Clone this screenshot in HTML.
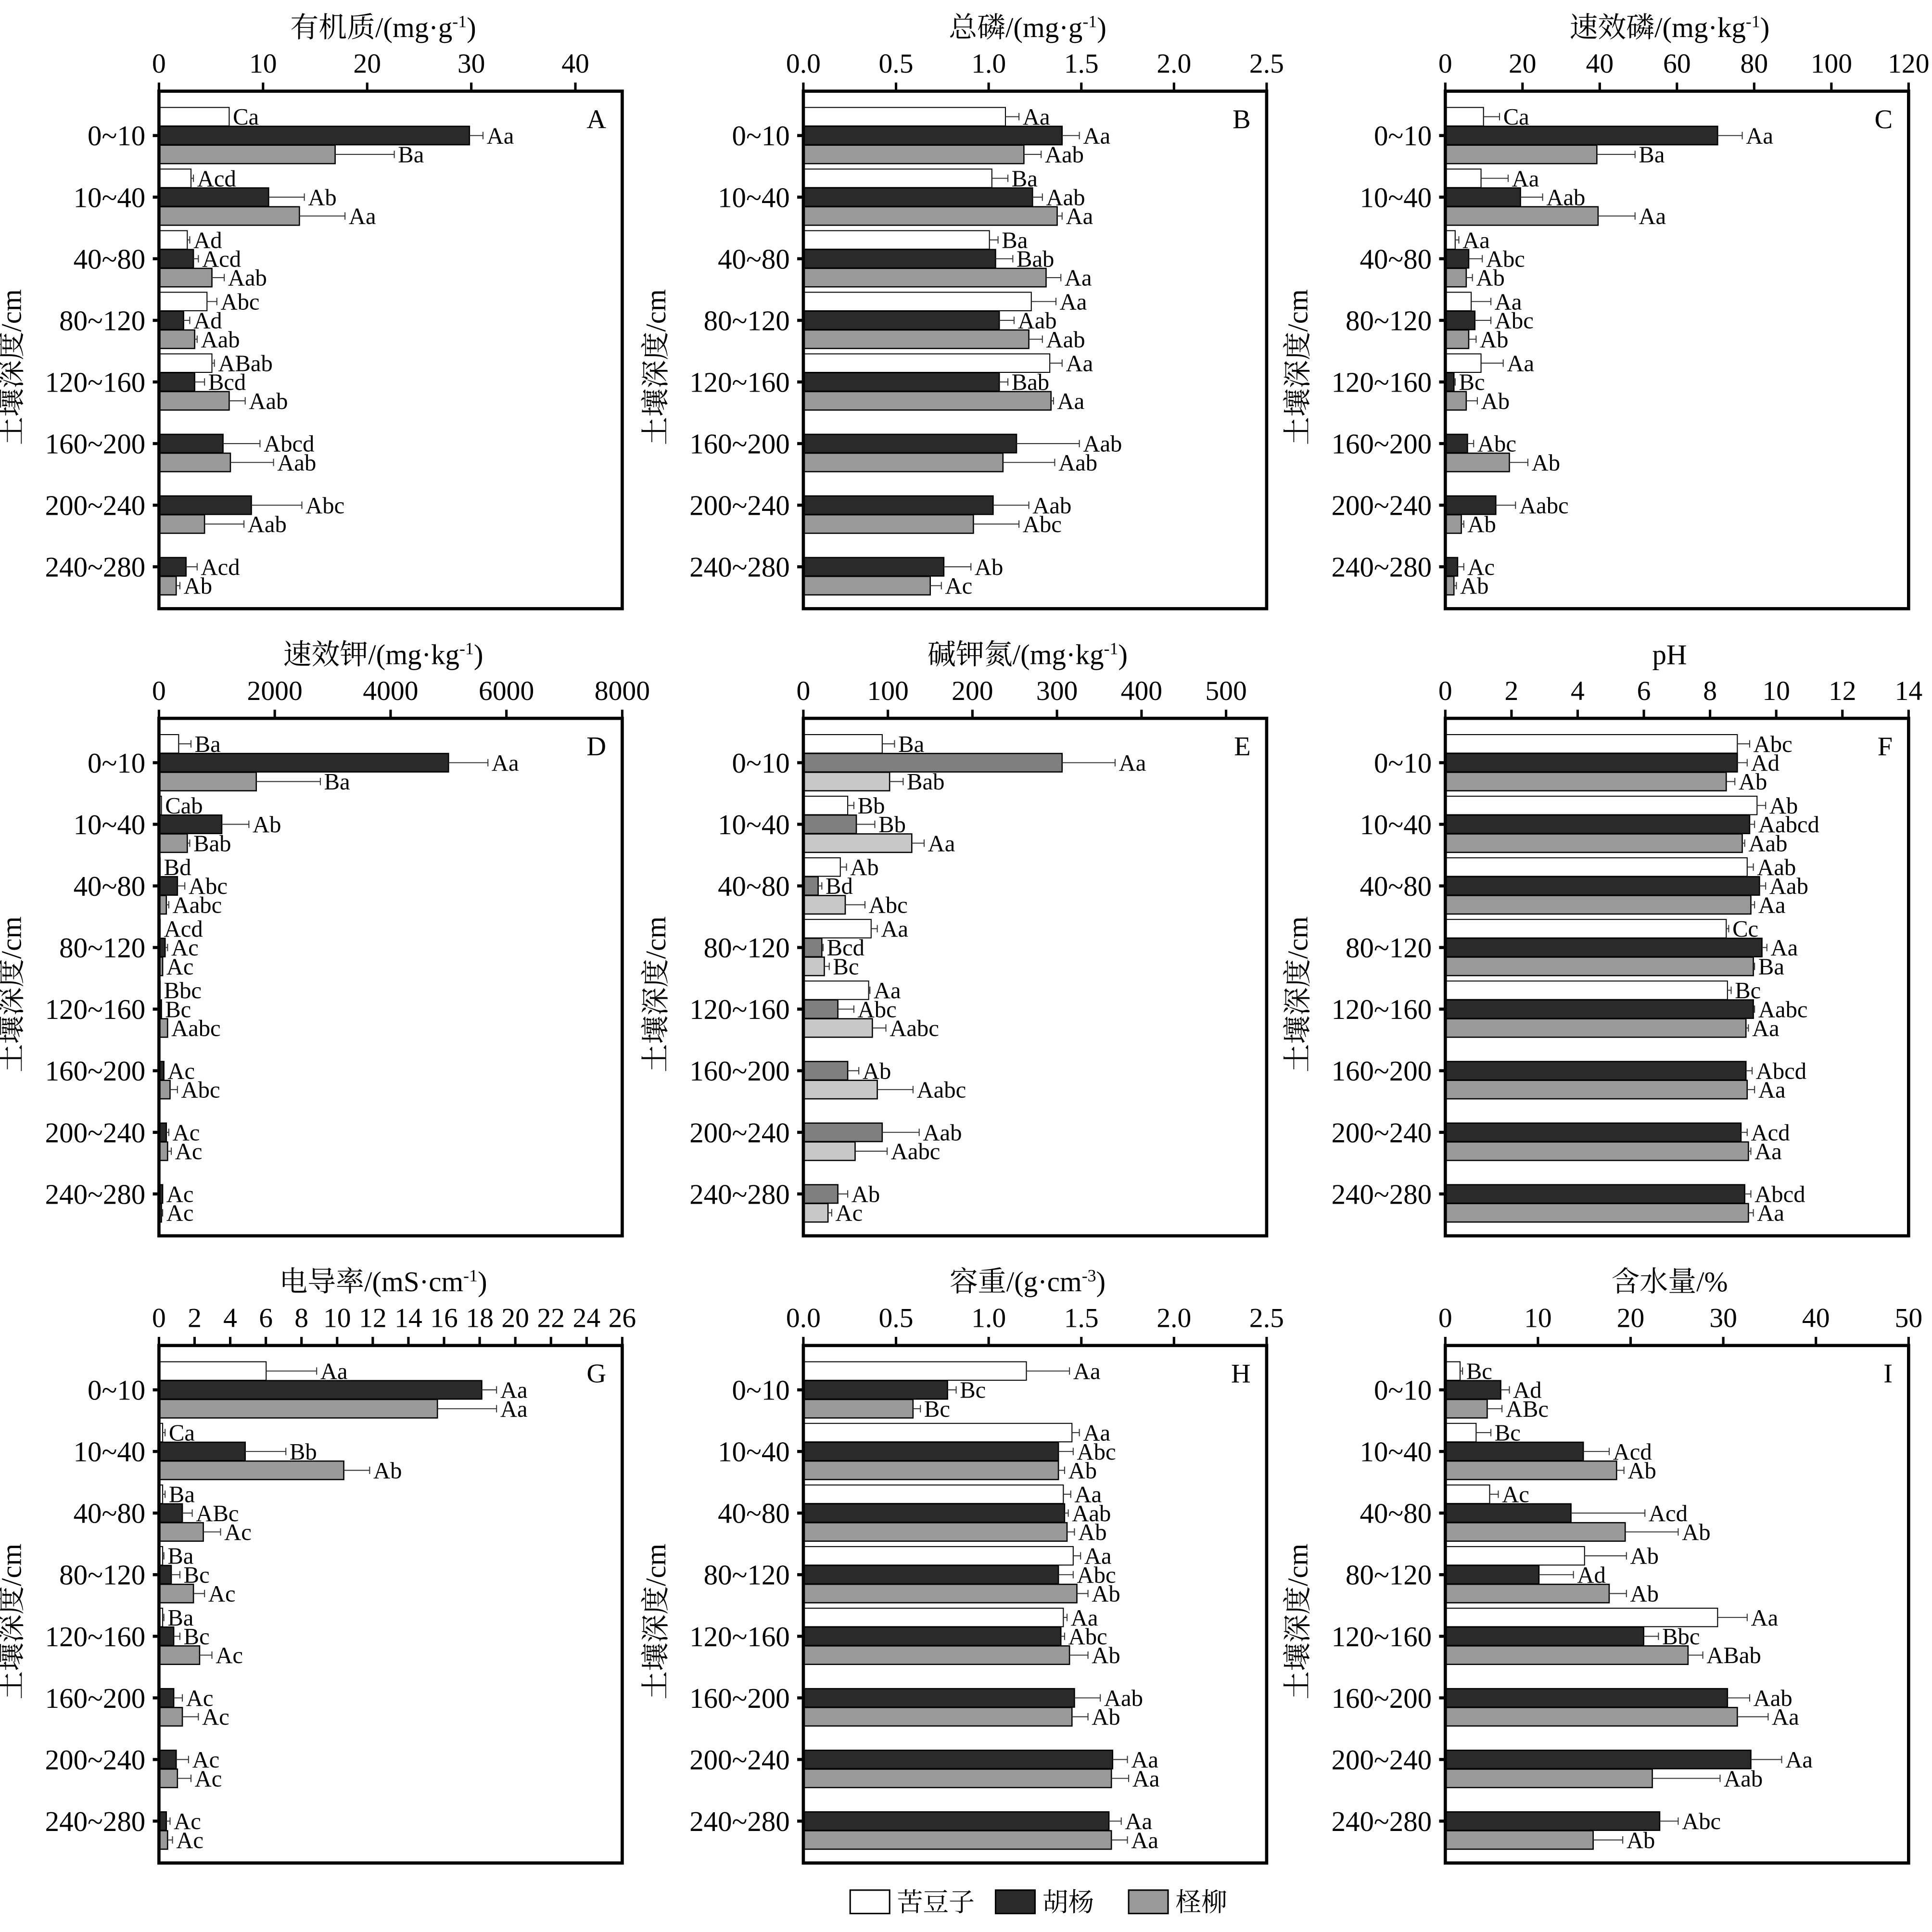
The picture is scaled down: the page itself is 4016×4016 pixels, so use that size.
<!DOCTYPE html>
<html><head><meta charset="utf-8">
<style>html,body{margin:0;padding:0;background:#fff;}svg{display:block;}</style>
</head><body>
<svg id="s" xmlns="http://www.w3.org/2000/svg" width="4016" height="4016" viewBox="0 0 1568 1568"></svg>
<script>
const S=document.getElementById('s');
let h='<rect x="0" y="0" width="1568" height="1568" fill="#fff"/>';
const SER='font-family="Liberation Serif, Noto Serif CJK SC, serif"';
const cols=[129,652,1173], rows=[74,583,1092], W=376, H=420;
const depths=['0~10','10~40','40~80','80~120','120~160','160~200','200~240','240~280'];
const panels=[
 {c:0,r:0,L:'A',t:'有机质/(mg·g',sup:'-1',t2:')',ticks:['0','10','20','30','40'],max:44.5,col:['#fff','#2a2a2a','#999'],d:[
  [[186,186,'Ca'],[381,392,'Aa'],[272,320,'Ba']],
  [[155,157,'Acd'],[218,247,'Ab'],[243,280,'Aa']],
  [[152,154,'Ad'],[157,161,'Acd'],[172,182,'Aab']],
  [[168,176,'Abc'],[149,154,'Ad'],[158,160,'Aab']],
  [[172,174,'ABab'],[158,166,'Bcd'],[186,199,'Aab']],
  [null,[181,211,'Abcd'],[187,222,'Aab']],
  [null,[204,245,'Abc'],[166,198,'Aab']],
  [null,[151,160,'Acd'],[143,146,'Ab']]]},
 {c:1,r:0,L:'B',t:'总磷/(mg·g',sup:'-1',t2:')',ticks:['0.0','0.5','1.0','1.5','2.0','2.5'],max:2.5,col:['#fff','#2a2a2a','#999'],d:[
  [[816,827,'Aa'],[862,876,'Aa'],[831,845,'Aab']],
  [[805,818,'Ba'],[838,846,'Aab'],[858,862,'Aa']],
  [[803,810,'Ba'],[808,822,'Bab'],[849,861,'Aa']],
  [[837,857,'Aa'],[811,823,'Aab'],[835,846,'Aab']],
  [[852,862,'Aa'],[811,818,'Bab'],[853,855,'Aa']],
  [null,[825,876,'Aab'],[814,856,'Aab']],
  [null,[806,835,'Aab'],[790,827,'Abc']],
  [null,[766,788,'Ab'],[755,764,'Ac']]]},
 {c:2,r:0,L:'C',t:'速效磷/(mg·kg',sup:'-1',t2:')',ticks:['0','20','40','60','80','100','120'],max:120,col:['#fff','#2a2a2a','#999'],d:[
  [[1204,1217,'Ca'],[1394,1414,'Aa'],[1296,1327,'Ba']],
  [[1202,1224,'Aa'],[1234,1252,'Aab'],[1297,1327,'Aa']],
  [[1181,1184,'Aa'],[1192,1203,'Abc'],[1190,1195,'Ab']],
  [[1194,1210,'Aa'],[1197,1210,'Abc'],[1192,1198,'Ab']],
  [[1202,1220,'Aa'],[1180,1181,'Bc'],[1190,1199,'Ab']],
  [null,[1191,1196,'Abc'],[1225,1240,'Ab']],
  [null,[1214,1230,'Aabc'],[1186,1188,'Ab']],
  [null,[1183,1188,'Ac'],[1180,1182,'Ab']]]},
 {c:0,r:1,L:'D',t:'速效钾/(mg·kg',sup:'-1',t2:')',ticks:['0','2000','4000','6000','8000'],max:8000,col:['#fff','#2a2a2a','#999'],d:[
  [[145,155,'Ba'],[364,396,'Aa'],[208,260,'Ba']],
  [[131,128,'Cab'],[180,202,'Ab'],[152,154,'Bab']],
  [[130,128,'Bd'],[144,150,'Abc'],[135,137,'Aabc']],
  [[130,128,'Acd'],[134,136,'Ac'],[132,132,'Ac']],
  [[130,128,'Bbc'],[131,131,'Bc'],[136,136,'Aabc']],
  [null,[133,133,'Ac'],[138,144,'Abc']],
  [null,[135,137,'Ac'],[136,139,'Ac']],
  [null,[132,132,'Ac'],[131,132,'Ac']]]},
 {c:1,r:1,L:'E',t:'碱钾氮/(mg·kg',sup:'-1',t2:')',ticks:['0','100','200','300','400','500'],max:548,col:['#fff','#7f7f7f','#c8c8c8'],d:[
  [[716,726,'Ba'],[862,905,'Aa'],[722,733,'Bab']],
  [[688,693,'Bb'],[695,710,'Bb'],[740,750,'Aa']],
  [[682,687,'Ab'],[664,667,'Bd'],[686,702,'Abc']],
  [[707,712,'Aa'],[667,668,'Bcd'],[669,673,'Bc']],
  [[705,706,'Aa'],[680,693,'Abc'],[708,719,'Aabc']],
  [null,[688,697,'Ab'],[712,741,'Aabc']],
  [null,[716,746,'Aab'],[694,720,'Aabc']],
  [null,[680,688,'Ab'],[672,675,'Ac']]]},
 {c:2,r:1,L:'F',t:'pH',sup:'',t2:'',ticks:['0','2','4','6','8','10','12','14'],max:14,col:['#fff','#2a2a2a','#999'],d:[
  [[1410,1420,'Abc'],[1410,1418,'Ad'],[1401,1408,'Ab']],
  [[1426,1433,'Ab'],[1420,1424,'Aabcd'],[1414,1416,'Aab']],
  [[1418,1423,'Aab'],[1428,1433,'Aab'],[1421,1424,'Aa']],
  [[1401,1403,'Cc'],[1430,1434,'Aa'],[1423,1424,'Ba']],
  [[1402,1405,'Bc'],[1423,1424,'Aabc'],[1417,1419,'Aa']],
  [null,[1417,1422,'Abcd'],[1418,1424,'Aa']],
  [null,[1413,1418,'Acd'],[1419,1421,'Aa']],
  [null,[1416,1421,'Abcd'],[1419,1423,'Aa']]]},
 {c:0,r:2,L:'G',t:'电导率/(mS·cm',sup:'-1',t2:')',ticks:['0','2','4','6','8','10','12','14','16','18','20','22','24','26'],max:26,col:['#fff','#2a2a2a','#999'],d:[
  [[216,257,'Aa'],[391,403,'Aa'],[355,403,'Aa']],
  [[132,134,'Ca'],[199,232,'Bb'],[279,300,'Ab']],
  [[132,134,'Ba'],[148,156,'ABc'],[165,179,'Ac']],
  [[132,133,'Ba'],[139,146,'Bc'],[157,166,'Ac']],
  [[132,133,'Ba'],[141,146,'Bc'],[162,172,'Ac']],
  [null,[141,148,'Ac'],[148,161,'Ac']],
  [null,[143,153,'Ac'],[144,155,'Ac']],
  [null,[135,138,'Ac'],[136,140,'Ac']]]},
 {c:1,r:2,L:'H',t:'容重/(g·cm',sup:'-3',t2:')',ticks:['0.0','0.5','1.0','1.5','2.0','2.5'],max:2.5,col:['#fff','#2a2a2a','#999'],d:[
  [[833,868,'Aa'],[769,776,'Bc'],[741,747,'Bc']],
  [[870,876,'Aa'],[859,871,'Abc'],[859,864,'Ab']],
  [[863,869,'Aa'],[864,867,'Aab'],[866,872,'Ab']],
  [[871,877,'Aa'],[859,871,'Abc'],[874,883,'Ab']],
  [[863,866,'Aa'],[861,864,'Abc'],[868,883,'Ab']],
  [null,[872,893,'Aab'],[870,883,'Ab']],
  [null,[903,915,'Aa'],[902,916,'Aa']],
  [null,[900,910,'Aa'],[902,915,'Aa']]]},
 {c:2,r:2,L:'I',t:'含水量/%',sup:'',t2:'',ticks:['0','10','20','30','40','50'],max:50,col:['#fff','#2a2a2a','#999'],d:[
  [[1185,1187,'Bc'],[1218,1225,'Ad'],[1207,1219,'ABc']],
  [[1198,1210,'Bc'],[1285,1306,'Acd'],[1312,1318,'Ab']],
  [[1209,1216,'Ac'],[1275,1335,'Acd'],[1319,1362,'Ab']],
  [[1286,1320,'Ab'],[1249,1277,'Ad'],[1306,1320,'Ab']],
  [[1394,1418,'Aa'],[1334,1346,'Bbc'],[1370,1382,'ABab']],
  [null,[1402,1420,'Aab'],[1410,1435,'Aa']],
  [null,[1421,1446,'Aa'],[1341,1396,'Aab']],
  [null,[1347,1362,'Abc'],[1293,1317,'Ab']]]}
];
for(const p of panels){
  const x0=cols[p.c], y0=rows[p.r];
  const cx=x0+W/2-6;
  h+=`<text x="${cx}" y="${y0-44}" text-anchor="middle" font-size="23" ${SER}>${p.t}${p.sup?`<tspan font-size="14" dy="-8">${p.sup}</tspan><tspan dy="8">${p.t2}</tspan>`:''}</text>`;
  const step=(parseFloat(p.ticks[1])-parseFloat(p.ticks[0]))*W/p.max;
  p.ticks.forEach((t,i)=>{const x=x0+i*step;
    h+=`<line x1="${x}" y1="${y0}" x2="${x}" y2="${y0-7}" stroke="#000" stroke-width="2"/>`;
    h+=`<text x="${x}" y="${y0-15}" text-anchor="middle" font-size="22.5" ${SER}>${t}</text>`;});
  p.d.forEach((row,ri)=>{const c=y0+36+ri*50;
    h+=`<line x1="${x0}" y1="${c}" x2="${x0-5}" y2="${c}" stroke="#000" stroke-width="2.5"/>`;
    h+=`<text x="${x0-11}" y="${c+8}" text-anchor="end" font-size="23" ${SER}>${depths[ri]}</text>`;
    row.forEach((b,bi)=>{ if(!b) return; const yc=c+(bi-1)*15.3, yt=yc-7.5;
      const [e,er,lab]=b;
      h+=`<rect x="${x0}" y="${yt}" width="${Math.max(e-x0,0.5)}" height="15" fill="${p.col[bi]}" stroke="#000" stroke-width="${bi==0?0.8:1}"/>`;
      if(er>e){h+=`<line x1="${e}" y1="${yc}" x2="${er}" y2="${yc}" stroke="#333" stroke-width="0.8"/><line x1="${er}" y1="${yc-3}" x2="${er}" y2="${yc+3}" stroke="#333" stroke-width="0.8"/>`;}
      const lx=Math.max(e,er)+3;
      h+=`<text x="${lx}" y="${yc+6.5}" font-size="19" ${SER}>${lab}</text>`;
    });
  });
  h+=`<text x="${x0+W-13}" y="${y0+30}" text-anchor="end" font-size="22" ${SER}>${p.L}</text>`;
  h+=`<rect x="${x0}" y="${y0}" width="${W}" height="${H}" fill="none" stroke="#000" stroke-width="2.6"/>`;
  const lx=x0-112, ly=y0+H/2+14;
  h+=`<text x="${lx}" y="${ly}" transform="rotate(-90 ${lx} ${ly})" text-anchor="middle" font-size="23" ${SER}>土壤深度/cm</text>`;
}
h+=`<rect x="690" y="1534" width="32" height="19" fill="#fff" stroke="#000" stroke-width="1.2"/><text x="728" y="1551" font-size="21" ${SER}>苦豆子</text>`;
h+=`<rect x="808" y="1534" width="32" height="19" fill="#2a2a2a" stroke="#000" stroke-width="1.2"/><text x="846" y="1551" font-size="21" ${SER}>胡杨</text>`;
h+=`<rect x="916" y="1534" width="32" height="19" fill="#999" stroke="#000" stroke-width="1.2"/><text x="954" y="1551" font-size="21" ${SER}>柽柳</text>`;
S.innerHTML=h;
</script>
</body></html>
